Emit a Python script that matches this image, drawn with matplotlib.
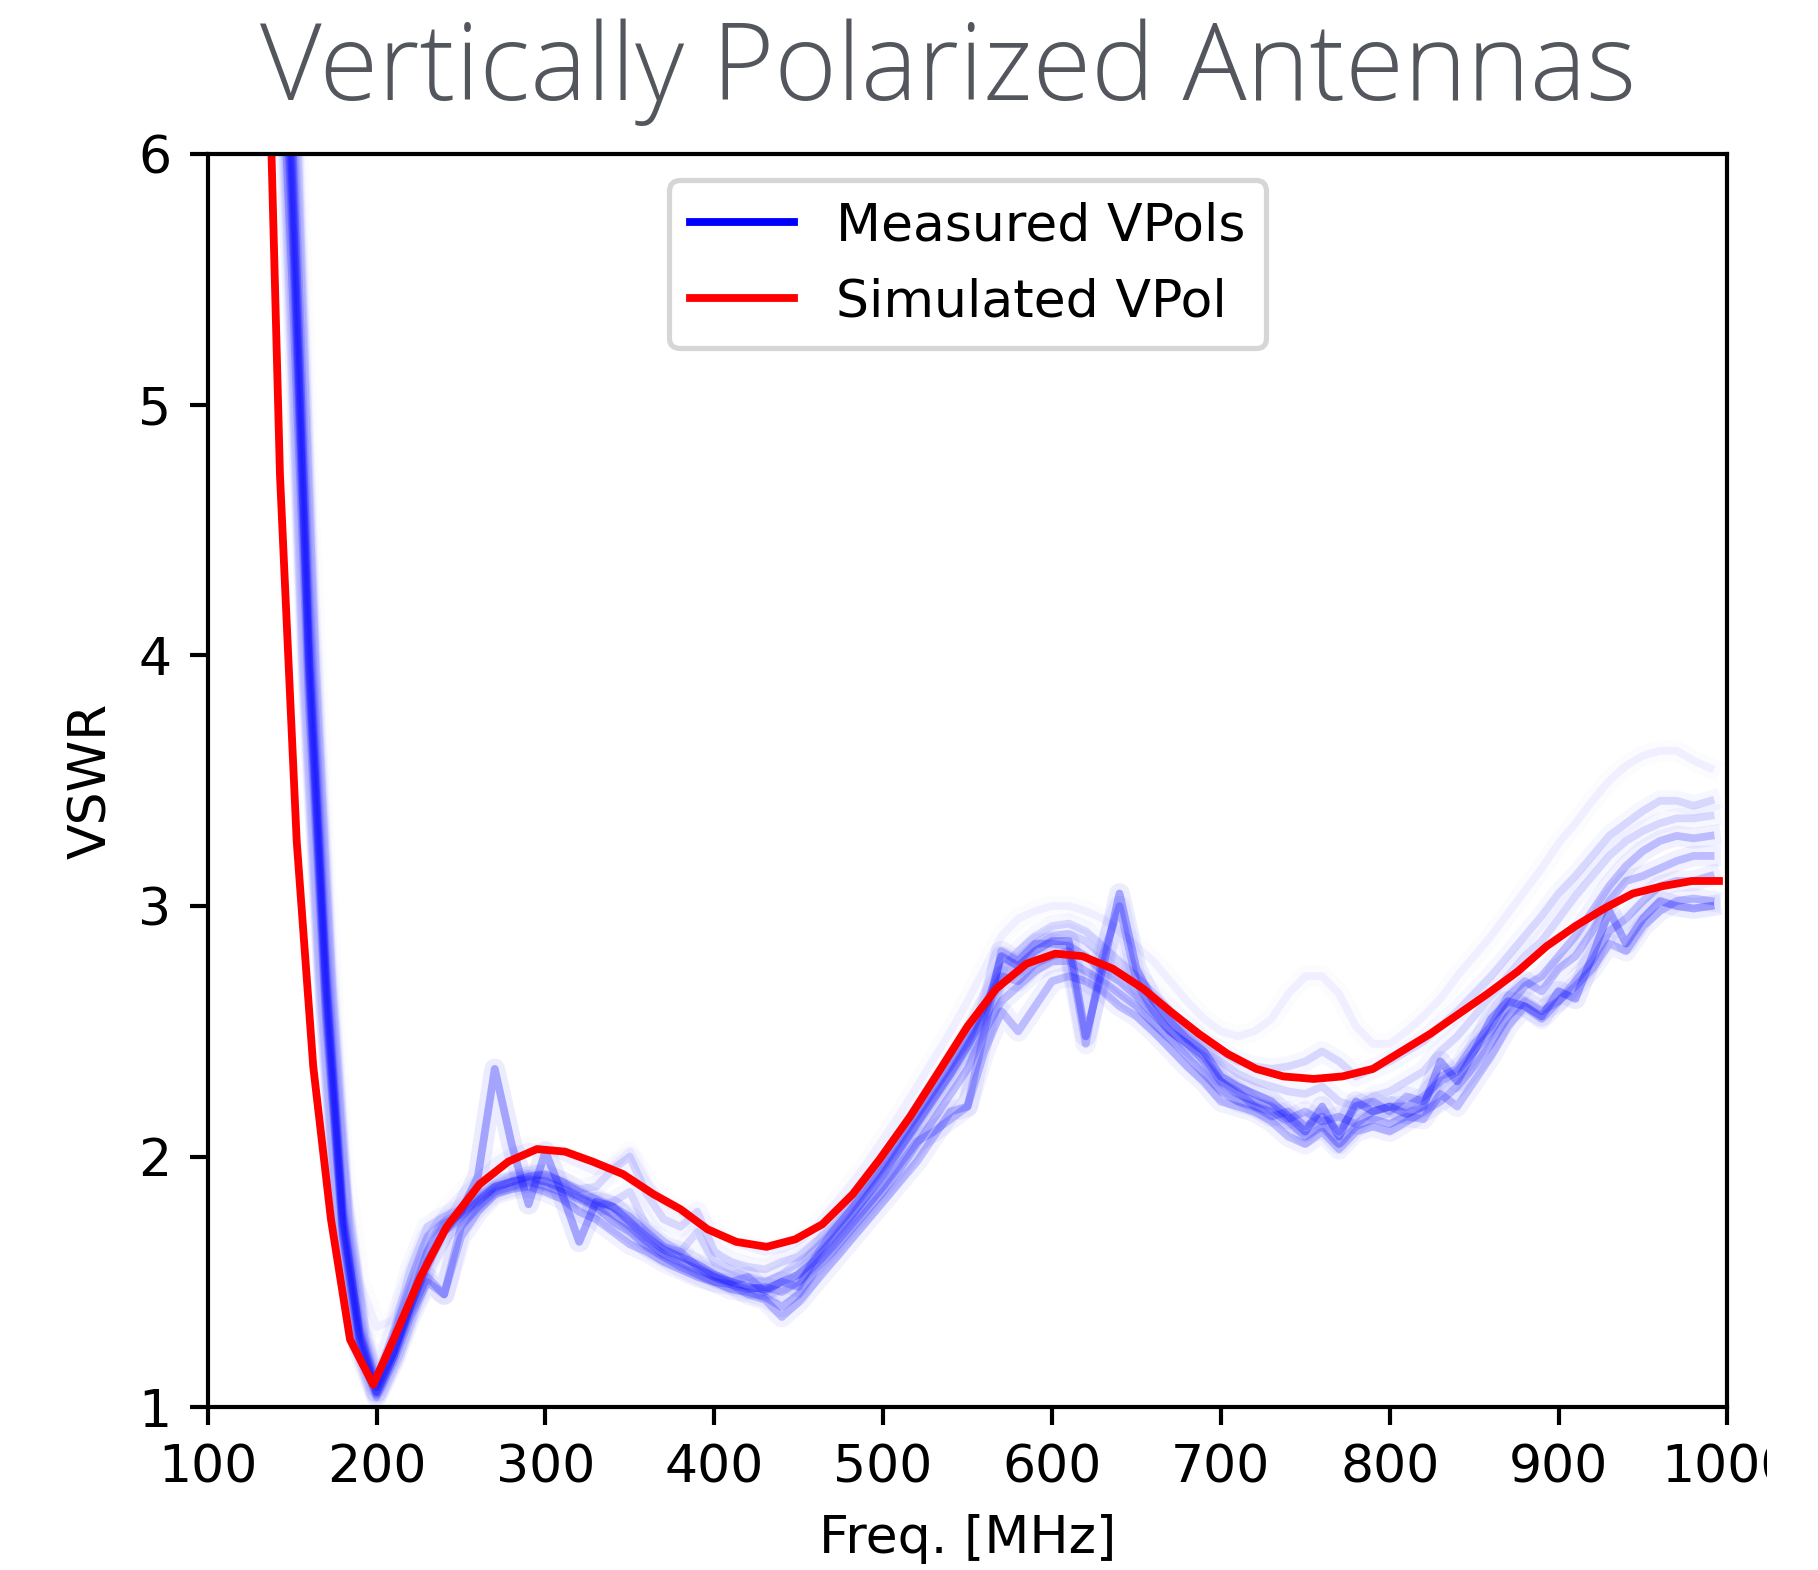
#!/usr/bin/env python3
"""
VSWR of the vertically polarized antennas: measured units vs simulation.
"""

import matplotlib.pyplot as plt
from matplotlib.lines import Line2D
from matplotlib.transforms import Bbox, TransformedBbox
import numpy as np

# measured VPols, sampled every 10 MHz from 140 to 990 MHz
meas_freq = np.arange(140, 1000, 10)

meas_a = [7.6, 5.9, 4.0, 2.7, 1.75, 1.3, 1.08, 1.22, 1.4, 1.58,
          1.7, 1.78, 1.92, 2.35, 2.05, 1.81, 2.02, 1.85, 1.66, 1.82,
          1.8, 1.74, 1.68, 1.63, 1.6, 1.57, 1.53, 1.5, 1.48, 1.47,
          1.5, 1.53, 1.59, 1.67, 1.75, 1.84, 1.93, 2.03, 2.13, 2.23,
          2.33, 2.44, 2.56, 2.8, 2.76, 2.82, 2.86, 2.86, 2.48, 2.75,
          3.05, 2.75, 2.62, 2.54, 2.47, 2.42, 2.32, 2.28, 2.25, 2.22,
          2.16, 2.1, 2.2, 2.08, 2.22, 2.18, 2.2, 2.17, 2.2, 2.38,
          2.3, 2.42, 2.55, 2.62, 2.6, 2.56, 2.66, 2.63, 2.8, 2.98,
          2.85, 2.95, 3.02, 3.0, 2.99, 3.0]
meas_b = [7.2, 5.7, 3.9, 2.6, 1.7, 1.25, 1.05, 1.2, 1.38, 1.52,
          1.45, 1.72, 1.8, 1.86, 1.88, 1.9, 1.88, 1.86, 1.83, 1.8,
          1.74, 1.7, 1.64, 1.6, 1.56, 1.53, 1.5, 1.47, 1.46, 1.44,
          1.4, 1.45, 1.55, 1.62, 1.7, 1.78, 1.86, 1.95, 2.05, 2.15,
          2.25, 2.35, 2.5, 2.62, 2.68, 2.74, 2.78, 2.78, 2.74, 2.7,
          2.65, 2.6, 2.53, 2.47, 2.4, 2.33, 2.26, 2.22, 2.2, 2.18,
          2.14, 2.08, 2.12, 2.05, 2.12, 2.15, 2.13, 2.16, 2.15, 2.25,
          2.2, 2.3, 2.4, 2.52, 2.6, 2.55, 2.62, 2.68, 2.75, 2.85,
          2.82, 2.92, 2.98, 3.02, 3.03, 3.02]
meas_c = [8.0, 6.3, 4.3, 2.9, 1.85, 1.35, 1.1, 1.3, 1.55, 1.72,
          1.76, 1.79, 1.84, 1.89, 1.92, 1.93, 1.92, 1.9, 1.87, 1.88,
          1.95, 2.0, 1.85, 1.75, 1.72, 1.78, 1.62, 1.58, 1.56, 1.55,
          1.58, 1.6, 1.66, 1.72, 1.8, 1.88, 1.97, 2.07, 2.17, 2.27,
          2.37, 2.48, 2.6, 2.75, 2.82, 2.88, 2.92, 2.93, 2.9, 2.84,
          2.78, 2.72, 2.65, 2.58, 2.52, 2.46, 2.42, 2.38, 2.36, 2.35,
          2.36, 2.38, 2.42, 2.38, 2.32, 2.35, 2.38, 2.42, 2.46, 2.52,
          2.58, 2.65, 2.72, 2.8, 2.88, 2.96, 3.05, 3.12, 3.2, 3.28,
          3.33, 3.38, 3.42, 3.42, 3.4, 3.42]
meas_d = [7.0, 5.5, 3.8, 2.55, 1.68, 1.22, 1.04, 1.18, 1.36, 1.5,
          1.45, 1.68, 1.78, 1.85, 1.87, 1.88, 1.86, 1.83, 1.78, 1.75,
          1.7, 1.65, 1.62, 1.58, 1.55, 1.52, 1.5, 1.49, 1.45, 1.43,
          1.36, 1.42, 1.5, 1.58, 1.66, 1.74, 1.82, 1.9, 1.98, 2.08,
          2.18, 2.2, 2.42, 2.58, 2.5, 2.6, 2.7, 2.72, 2.7, 2.66,
          2.6, 2.56, 2.5, 2.43, 2.36, 2.3, 2.22, 2.2, 2.18, 2.14,
          2.08, 2.05, 2.1, 2.03, 2.1, 2.12, 2.1, 2.14, 2.18, 2.22,
          2.28, 2.36, 2.45, 2.56, 2.62, 2.58, 2.62, 2.7, 2.78, 2.9,
          2.95, 3.02, 3.08, 3.1, 3.1, 3.12]
meas_e = [8.5, 6.8, 4.6, 3.1, 2.0, 1.5, 1.32, 1.35, 1.5, 1.68,
          1.78, 1.85, 1.92, 1.98, 2.02, 2.04, 2.03, 2.0, 1.97, 1.94,
          1.96, 2.02, 1.9, 1.82, 1.78, 1.74, 1.7, 1.66, 1.64, 1.62,
          1.63, 1.66, 1.72, 1.8, 1.88, 1.97, 2.07, 2.17, 2.28, 2.39,
          2.5, 2.62, 2.75, 2.88, 2.95, 2.98, 3.0, 3.0, 2.98, 2.95,
          2.9, 2.84, 2.78, 2.7, 2.62, 2.55, 2.5, 2.48, 2.5, 2.55,
          2.65, 2.72, 2.72, 2.65, 2.52, 2.45, 2.45, 2.5, 2.56, 2.63,
          2.72, 2.8, 2.88, 2.97, 3.06, 3.15, 3.25, 3.33, 3.42, 3.5,
          3.56, 3.6, 3.62, 3.62, 3.58, 3.55]
meas_f = [7.4, 6.1, 4.1, 2.75, 1.78, 1.28, 1.06, 1.22, 1.42, 1.62,
          1.73, 1.77, 1.83, 1.88, 1.9, 1.92, 1.93, 1.9, 1.86, 1.83,
          1.8, 1.76, 1.7, 1.64, 1.62, 1.56, 1.52, 1.5, 1.52, 1.46,
          1.5, 1.48, 1.6, 1.7, 1.78, 1.87, 1.96, 2.06, 2.16, 2.26,
          2.36, 2.46, 2.6, 2.72, 2.7, 2.77, 2.8, 2.82, 2.45, 2.8,
          3.0, 2.7, 2.58, 2.5, 2.45, 2.4, 2.3, 2.26, 2.2, 2.16,
          2.18, 2.12, 2.16, 2.1, 2.2, 2.22, 2.18, 2.24, 2.22, 2.32,
          2.35, 2.45, 2.52, 2.64, 2.7, 2.66, 2.75, 2.8, 2.9, 3.02,
          3.1, 3.12, 3.15, 3.18, 3.2, 3.2]
meas_g = [7.8, 6.0, 4.2, 2.8, 1.8, 1.32, 1.09, 1.28, 1.5, 1.68,
          1.74, 1.78, 1.82, 1.87, 1.9, 1.92, 1.9, 1.88, 1.84, 1.8,
          1.82, 1.86, 1.72, 1.66, 1.62, 1.7, 1.58, 1.55, 1.52, 1.5,
          1.53, 1.58, 1.63, 1.7, 1.78, 1.86, 1.95, 2.04, 2.14, 2.24,
          2.34, 2.45, 2.57, 2.7, 2.78, 2.84, 2.88, 2.89, 2.86, 2.8,
          2.74, 2.68, 2.62, 2.55, 2.48, 2.42, 2.38, 2.33, 2.3, 2.28,
          2.26, 2.25, 2.28, 2.22, 2.2, 2.24, 2.26, 2.3, 2.34, 2.42,
          2.48, 2.56, 2.64, 2.72, 2.8, 2.86, 2.95, 3.04, 3.12, 3.2,
          3.26, 3.3, 3.33, 3.35, 3.35, 3.36]
meas_h = [7.3, 5.8, 3.95, 2.65, 1.72, 1.27, 1.06, 1.2, 1.4, 1.56,
          1.7, 1.76, 1.82, 1.88, 1.9, 1.91, 1.9, 1.87, 1.84, 1.81,
          1.77, 1.72, 1.66, 1.61, 1.58, 1.55, 1.52, 1.49, 1.47, 1.48,
          1.46, 1.5, 1.57, 1.64, 1.72, 1.8, 1.88, 1.97, 2.06, 2.1,
          2.15, 2.2, 2.5, 2.82, 2.78, 2.85, 2.85, 2.84, 2.8, 2.74,
          2.7, 2.64, 2.57, 2.5, 2.45, 2.38, 2.3, 2.25, 2.22, 2.2,
          2.15, 2.18, 2.14, 2.16, 2.13, 2.18, 2.2, 2.2, 2.24, 2.3,
          2.34, 2.42, 2.5, 2.6, 2.68, 2.72, 2.8, 2.88, 2.98, 3.08,
          3.16, 3.22, 3.26, 3.28, 3.27, 3.28]
measured = [meas_a, meas_b, meas_c, meas_d, meas_e, meas_f, meas_g, meas_h]
meas_alpha = [0.3, 0.22, 0.12, 0.22, 0.05, 0.22, 0.12, 0.22]

# simulated VPol
sim_freq = [128, 142.8, 152.7, 162.5, 173, 184.3, 198, 210, 226, 241.5,
            261, 278, 295, 311.6, 328, 346, 364, 380, 396, 413,
            431, 448, 464, 482, 498, 516, 534, 550, 567, 585,
            602, 618, 636, 654, 670, 687, 704, 721, 737, 755,
            772, 790, 807, 824, 841, 858, 876, 893, 910, 927,
            944, 962, 979, 995]
sim_vswr = [8.5, 4.72, 3.26, 2.36, 1.75, 1.27, 1.09, 1.27, 1.52, 1.72,
            1.89, 1.98, 2.03, 2.02, 1.98, 1.93, 1.85, 1.79, 1.71, 1.66,
            1.64, 1.67, 1.73, 1.85, 1.99, 2.16, 2.35, 2.52, 2.67, 2.77,
            2.81, 2.80, 2.75, 2.67, 2.58, 2.49, 2.41, 2.35, 2.32, 2.31,
            2.32, 2.35, 2.42, 2.49, 2.57, 2.65, 2.74, 2.84, 2.92, 2.99,
            3.05, 3.08, 3.10, 3.10]

W, H, DPI = 1819, 1570, 375
fig = plt.figure(figsize=(W / DPI, H / DPI), dpi=DPI)
ax = fig.add_axes([207.7 / W, 1 - 1407.2 / H, 1519.7 / W, 1252.9 / H])

for series, a in zip(measured, meas_alpha):
    # soft halo plus the trace itself, like a stack of many faint curves
    ax.plot(meas_freq, series, color='blue', lw=4.0, alpha=a * 0.25)
    ax.plot(meas_freq, series, color='blue', lw=1.5, alpha=a)
ax.plot(sim_freq, sim_vswr, color='red', lw=1.5)

ax.set_xlim(100, 1000)
ax.set_ylim(1, 6)
ax.set_xticks(np.arange(100, 1001, 100))
ax.set_yticks(np.arange(1, 7))
ax.set_xlabel('Freq. [MHz]')
ax.set_ylabel('VSWR')

handles = [Line2D([], [], color='blue', lw=1.5),
           Line2D([], [], color='red', lw=1.5)]
ax.legend(handles, ['Measured VPols', 'Simulated VPol'], loc='upper center')

# the last tick label runs off the right edge of the original picture
last = ax.xaxis.get_major_ticks()[-1].label1
last.set_clip_on(True)
last.set_clip_box(TransformedBbox(Bbox([[0, 0], [1767 / W, 1]]), fig.transFigure))

fig.text(948 / W, 1 - 100 / H, 'Vertically Polarized Antennas',
         ha='center', va='baseline', fontsize=20.5, color='#53575d',
         family=['Open Sans', 'DejaVu Sans'], fontweight='light')

fig.savefig('out.png', dpi=DPI)
plt.close(fig)
